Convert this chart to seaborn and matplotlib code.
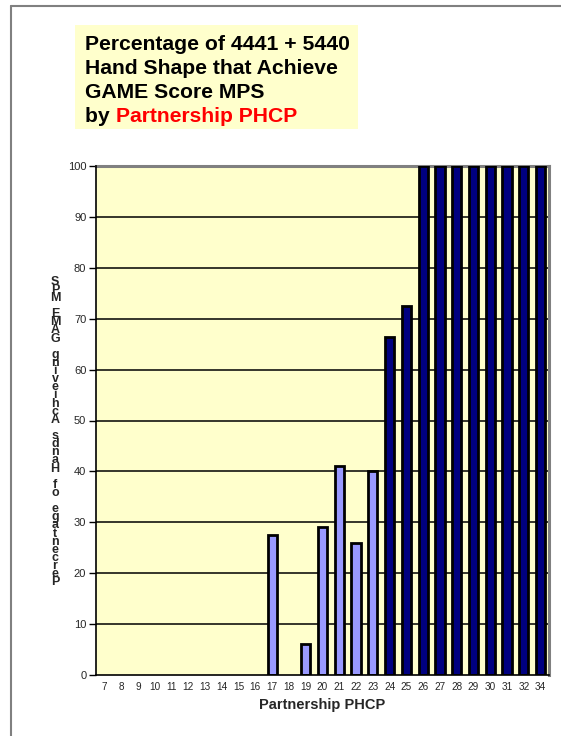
import numpy as np
import pandas as pd
import matplotlib
matplotlib.use("Agg")
import matplotlib.pyplot as plt
from matplotlib.patches import Rectangle
from matplotlib.lines import Line2D
import seaborn as sns

# Partnership PHCP values (33 has no hands) and percentage achieving game score
phcp = ["7", "8", "9", "10", "11", "12", "13", "14", "15", "16", "17", "18", "19",
        "20", "21", "22", "23", "24", "25", "26", "27", "28", "29", "30", "31", "32", "34"]
pct = [0, 0, 0, 0, 0, 0, 0, 0, 0, 0, 27.5, 0, 6, 29, 41, 26, 40,
       66.5, 72.5, 100, 100, 100, 100, 100, 100, 100, 100]
y_ticks = [0, 10, 20, 30, 40, 50, 60, 70, 80, 90, 100]

title_lines = ["Percentage of 4441 + 5440", "Hand Shape that Achieve", "GAME Score MPS"]
title_last_black = "by "
title_last_red = "Partnership PHCP"
x_label = "Partnership PHCP"
y_label = "Percentage of Hands Achieving GAME MPS"

LIGHT = "#9999FF"
DARK = "#000080"
BG = "#FFFFCC"

sns.set_theme(style="white")
plt.rcParams["font.family"] = ["Liberation Sans", "DejaVu Sans"]

W, H = 561, 736
fig = plt.figure(figsize=(W / 100, H / 100), dpi=100)
fig.patch.set_facecolor("white")

def fx(px):
    return px / W

def fy(py):
    return 1 - py / H

ax = fig.add_axes([fx(96), fy(675), fx(549) - fx(96), fy(166) - fy(675)])
ax.set_facecolor(BG)

df = pd.DataFrame({"phcp": phcp, "pct": pct})
colors = {p: (DARK if v >= 60 else LIGHT) for p, v in zip(phcp, pct)}
sns.barplot(data=df, x="phcp", y="pct", hue="phcp", palette=colors, legend=False,
            order=phcp, width=0.55, edgecolor="black", linewidth=2.0,
            saturation=1, ax=ax, zorder=3)
for patch in ax.patches:
    if patch.get_height() == 0:
        patch.set_linewidth(0)

ax.set_xlim(-0.5, len(phcp) - 0.5)
ax.set_ylim(0, 100)
ax.set_yticks(y_ticks)
ax.set_yticklabels([str(t) for t in y_ticks], fontsize=8)
ax.set_xticks(range(len(phcp)))
ax.set_xticklabels(phcp, fontsize=7.2)
ax.set_xticks(np.arange(-0.5, len(phcp)), minor=True)
ax.tick_params(axis="x", which="major", length=0, pad=5)
ax.tick_params(axis="x", which="minor", length=3, width=1, direction="out", color="black")
ax.tick_params(axis="y", which="major", length=5, width=1, direction="out",
               color="black", pad=2, left=True)

for t in y_ticks[1:-1]:
    ax.axhline(t, color="black", linewidth=1.1, zorder=1)

for side in ["left", "bottom"]:
    ax.spines[side].set_color("black")
    ax.spines[side].set_linewidth(1.2)
    ax.spines[side].set_zorder(5)
for side in ["top", "right"]:
    ax.spines[side].set_color("#808080")
    ax.spines[side].set_linewidth(2.2)
    ax.spines[side].set_zorder(2)

ax.set_xlabel(x_label, fontsize=10.5, fontweight="bold", labelpad=4)
ax.set_ylabel("")

# Stacked vertical axis title, characters drawn bottom-up
fig.text(fx(55), fy(432), "\n".join(reversed(y_label)), ha="center", va="center",
         fontsize=9, fontweight="bold", linespacing=0.57)

# Title box
fig.add_artist(Rectangle((fx(75), fy(129)), fx(358) - fx(75), fy(25) - fy(129),
                         transform=fig.transFigure, facecolor=BG, edgecolor="none"))
TS = 15.2
ty = [45, 69, 93]
for y, line in zip(ty, title_lines):
    fig.text(fx(85), fy(y), line, ha="left", va="center", fontsize=TS,
             fontweight="bold", color="black")
t_by = fig.text(fx(85), fy(117), title_last_black, ha="left", va="center",
                fontsize=TS, fontweight="bold", color="black")
fig.canvas.draw()
bb = t_by.get_window_extent()
fig.text(bb.x1 / W, fy(117), title_last_red, ha="left", va="center",
         fontsize=TS, fontweight="bold", color="#FF0000")

# Outer frame (left and top edges)
fig.add_artist(Line2D([fx(11), fx(11)], [fy(6), 0], transform=fig.transFigure,
                      color="#808080", linewidth=1.5))
fig.add_artist(Line2D([fx(11), 1], [fy(6), fy(6)], transform=fig.transFigure,
                      color="#808080", linewidth=1.5))

fig.savefig("out.png", dpi=100)
